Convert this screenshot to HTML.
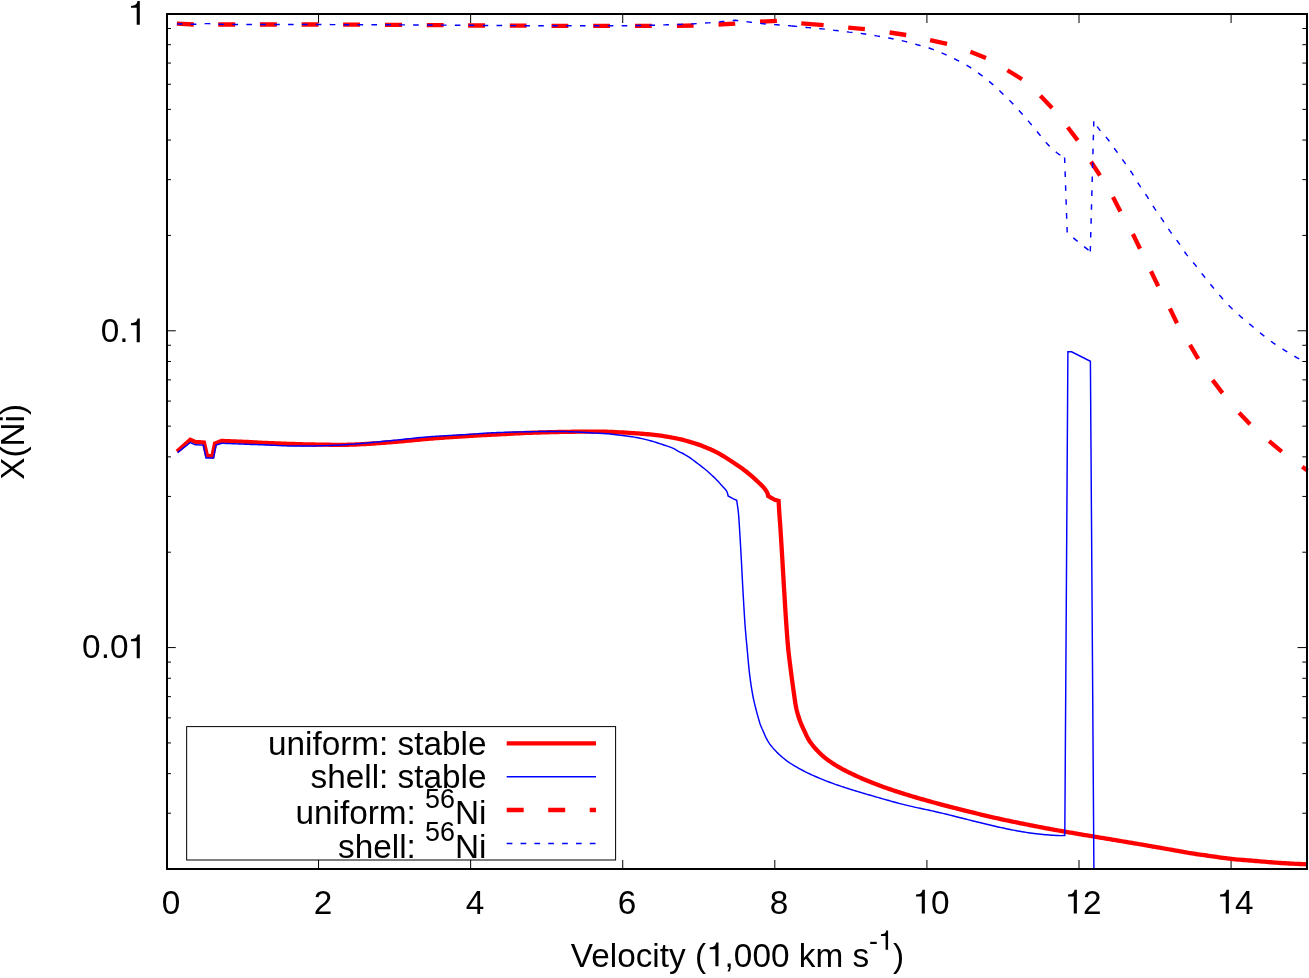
<!DOCTYPE html>
<html><head><meta charset="utf-8"><title>X(Ni) vs velocity</title>
<style>html,body{margin:0;padding:0;background:#fff;overflow:hidden}svg{display:block;will-change:transform}text{font-family:"Liberation Sans",sans-serif;fill:#000}.h{fill:none}</style></head><body>
<svg width="1309" height="978" viewBox="0 0 1309 978">
<rect x="0" y="0" width="1309" height="978" fill="#ffffff"/>
<path d="M318.55,869.00 v-9.00 M318.55,14.00 v9.00 M470.64,869.00 v-9.00 M470.64,14.00 v9.00 M622.73,869.00 v-9.00 M622.73,14.00 v9.00 M774.82,869.00 v-9.00 M774.82,14.00 v9.00 M926.91,869.00 v-9.00 M926.91,14.00 v9.00 M1079.00,869.00 v-9.00 M1079.00,14.00 v9.00 M1231.09,869.00 v-9.00 M1231.09,14.00 v9.00 M166.46,330.79 h9.30 M1307.13,330.79 h-9.60 M166.46,235.42 h4.50 M1307.13,235.42 h-4.80 M166.46,179.64 h4.50 M1307.13,179.64 h-4.80 M166.46,140.06 h4.50 M1307.13,140.06 h-4.80 M166.46,109.36 h4.50 M1307.13,109.36 h-4.80 M166.46,84.28 h4.50 M1307.13,84.28 h-4.80 M166.46,63.07 h4.50 M1307.13,63.07 h-4.80 M166.46,44.70 h4.50 M1307.13,44.70 h-4.80 M166.46,28.50 h4.50 M1307.13,28.50 h-4.80 M166.46,647.58 h9.30 M1307.13,647.58 h-9.60 M166.46,552.21 h4.50 M1307.13,552.21 h-4.80 M166.46,496.43 h4.50 M1307.13,496.43 h-4.80 M166.46,456.85 h4.50 M1307.13,456.85 h-4.80 M166.46,426.15 h4.50 M1307.13,426.15 h-4.80 M166.46,401.07 h4.50 M1307.13,401.07 h-4.80 M166.46,379.86 h4.50 M1307.13,379.86 h-4.80 M166.46,361.49 h4.50 M1307.13,361.49 h-4.80 M166.46,345.28 h4.50 M1307.13,345.28 h-4.80 M166.46,813.22 h4.50 M1307.13,813.22 h-4.80 M166.46,773.64 h4.50 M1307.13,773.64 h-4.80 M166.46,742.94 h4.50 M1307.13,742.94 h-4.80 M166.46,717.85 h4.50 M1307.13,717.85 h-4.80 M166.46,696.65 h4.50 M1307.13,696.65 h-4.80 M166.46,678.27 h4.50 M1307.13,678.27 h-4.80 M166.46,662.07 h4.50 M1307.13,662.07 h-4.80" stroke="#000" stroke-width="1" fill="none"/>
<g fill="none" stroke-linejoin="miter" stroke-miterlimit="10" stroke-linecap="butt">
<path d="M177.00,451.50 L190.30,439.80 L195.30,441.90 L203.90,442.50 L207.00,455.80 L212.40,456.40 L215.00,443.50 L221.50,440.90 L223.51,440.98 L225.53,441.06 L227.56,441.15 L229.59,441.23 L231.61,441.31 L233.64,441.39 L235.66,441.47 L237.67,441.55 L239.68,441.64 L241.67,441.72 L243.64,441.81 L245.60,441.90 L247.79,442.00 L249.95,442.11 L252.09,442.23 L254.21,442.34 L256.33,442.45 L258.45,442.57 L260.56,442.68 L262.69,442.79 L264.83,442.90 L267.00,443.00 L269.05,443.09 L271.09,443.18 L273.13,443.27 L275.17,443.36 L277.23,443.44 L279.29,443.52 L281.38,443.60 L283.48,443.68 L285.62,443.76 L287.79,443.83 L290.00,443.90 L291.88,443.96 L293.80,444.02 L295.74,444.07 L297.71,444.13 L299.70,444.18 L301.71,444.23 L303.74,444.28 L305.77,444.33 L307.81,444.38 L309.85,444.42 L311.90,444.47 L313.94,444.50 L315.97,444.54 L317.99,444.57 L320.00,444.60 L321.99,444.63 L323.97,444.66 L325.93,444.69 L327.89,444.72 L329.84,444.75 L331.79,444.78 L333.75,444.80 L335.72,444.82 L337.69,444.83 L339.68,444.84 L341.69,444.83 L343.73,444.82 L345.79,444.79 L347.88,444.75 L350.00,444.70 L351.87,444.64 L353.77,444.57 L355.69,444.50 L357.64,444.41 L359.60,444.32 L361.58,444.22 L363.58,444.11 L365.59,443.99 L367.61,443.87 L369.65,443.74 L371.68,443.61 L373.73,443.48 L375.78,443.34 L377.82,443.19 L379.87,443.05 L381.91,442.90 L383.95,442.75 L385.98,442.60 L387.99,442.45 L390.00,442.30 L392.00,442.15 L394.00,441.98 L396.00,441.82 L398.00,441.64 L400.00,441.47 L402.00,441.28 L404.00,441.10 L406.00,440.91 L408.00,440.72 L410.00,440.52 L412.00,440.33 L414.00,440.14 L416.00,439.95 L418.00,439.76 L420.00,439.57 L422.00,439.39 L424.00,439.21 L426.00,439.03 L428.00,438.86 L430.00,438.70 L432.01,438.54 L434.02,438.38 L436.05,438.23 L438.09,438.07 L440.13,437.92 L442.18,437.77 L444.23,437.62 L446.27,437.47 L448.32,437.33 L450.36,437.19 L452.39,437.05 L454.41,436.91 L456.42,436.77 L458.42,436.64 L460.40,436.51 L462.37,436.38 L464.31,436.26 L466.23,436.14 L468.13,436.02 L470.00,435.90 L472.12,435.77 L474.21,435.65 L476.27,435.53 L478.31,435.42 L480.32,435.31 L482.31,435.20 L484.28,435.10 L486.25,435.00 L488.21,434.90 L490.16,434.80 L492.11,434.70 L494.07,434.60 L496.03,434.50 L498.01,434.40 L500.00,434.30 L501.99,434.20 L503.97,434.09 L505.93,433.98 L507.89,433.88 L509.84,433.77 L511.79,433.66 L513.75,433.56 L515.71,433.46 L517.69,433.35 L519.68,433.25 L521.69,433.16 L523.72,433.06 L525.78,432.97 L527.87,432.88 L530.00,432.80 L531.88,432.73 L533.79,432.66 L535.74,432.60 L537.72,432.54 L539.73,432.48 L541.76,432.42 L543.80,432.36 L545.86,432.30 L547.93,432.25 L550.00,432.20 L552.07,432.15 L554.14,432.10 L556.19,432.06 L558.24,432.01 L560.27,431.97 L562.28,431.93 L564.26,431.90 L566.21,431.86 L568.12,431.83 L570.00,431.80 L572.12,431.77 L574.22,431.73 L576.28,431.70 L578.31,431.66 L580.32,431.63 L582.31,431.60 L584.29,431.58 L586.25,431.56 L588.21,431.54 L590.16,431.53 L592.11,431.53 L594.07,431.53 L596.03,431.55 L598.01,431.57 L600.00,431.60 L602.03,431.64 L604.12,431.70 L606.26,431.77 L608.42,431.84 L610.60,431.93 L612.77,432.02 L614.94,432.11 L617.07,432.21 L619.16,432.32 L621.19,432.42 L623.15,432.52 L625.03,432.62 L626.81,432.72 L628.47,432.81 L630.00,432.90 L632.30,433.03 L634.24,433.16 L636.04,433.28 L637.89,433.43 L640.00,433.60 L641.80,433.75 L643.72,433.91 L645.73,434.08 L647.80,434.26 L649.92,434.46 L652.07,434.67 L654.21,434.89 L656.33,435.14 L658.40,435.40 L660.47,435.68 L662.57,435.99 L664.68,436.31 L666.79,436.65 L668.89,437.00 L670.95,437.37 L672.97,437.74 L674.92,438.12 L676.80,438.50 L679.00,438.98 L681.10,439.46 L683.12,439.96 L685.11,440.48 L687.09,441.03 L689.10,441.60 L691.15,442.20 L693.18,442.83 L695.22,443.48 L697.25,444.15 L699.28,444.86 L701.30,445.60 L703.41,446.41 L705.56,447.28 L707.72,448.18 L709.81,449.09 L711.79,449.97 L713.60,450.80 L715.82,451.86 L717.80,452.88 L720.00,454.10 L721.62,455.04 L723.38,456.10 L725.24,457.25 L727.16,458.47 L729.11,459.71 L731.03,460.97 L732.90,462.20 L734.76,463.44 L736.63,464.70 L738.50,465.98 L740.36,467.27 L742.20,468.59 L744.01,469.93 L745.80,471.30 L747.57,472.71 L749.36,474.19 L751.13,475.69 L752.86,477.21 L754.53,478.70 L756.12,480.14 L757.60,481.50 L759.45,483.22 L761.16,484.85 L762.72,486.44 L764.10,488.00 L765.95,490.46 L767.30,492.80 L767.83,494.42 L768.20,496.00 L774.80,499.80 L778.60,500.90 L778.73,503.08 L778.86,505.29 L778.99,507.52 L779.11,509.73 L779.24,511.89 L779.37,513.95 L779.50,515.90 L779.67,518.20 L779.83,520.24 L780.01,522.39 L780.20,525.00 L780.30,526.47 L780.41,528.08 L780.52,529.82 L780.64,531.66 L780.76,533.61 L780.89,535.63 L781.02,537.72 L781.15,539.87 L781.28,542.05 L781.42,544.26 L781.55,546.48 L781.69,548.69 L781.82,550.88 L781.95,553.04 L782.08,555.15 L782.20,557.20 L782.32,559.21 L782.44,561.21 L782.56,563.20 L782.67,565.19 L782.79,567.18 L782.91,569.17 L783.02,571.15 L783.14,573.14 L783.25,575.14 L783.37,577.14 L783.49,579.15 L783.61,581.17 L783.73,583.21 L783.85,585.26 L783.97,587.32 L784.10,589.40 L784.22,591.43 L784.35,593.50 L784.48,595.61 L784.61,597.74 L784.74,599.90 L784.88,602.07 L785.01,604.26 L785.15,606.44 L785.28,608.62 L785.42,610.79 L785.56,612.94 L785.69,615.07 L785.83,617.17 L785.97,619.24 L786.10,621.26 L786.24,623.23 L786.37,625.15 L786.50,627.00 L786.66,629.26 L786.82,631.43 L786.97,633.53 L787.11,635.57 L787.26,637.56 L787.41,639.53 L787.57,641.49 L787.74,643.45 L787.91,645.43 L788.10,647.44 L788.30,649.50 L788.51,651.52 L788.74,653.58 L788.97,655.66 L789.22,657.76 L789.48,659.86 L789.74,661.96 L790.00,664.05 L790.27,666.13 L790.53,668.18 L790.79,670.20 L791.05,672.17 L791.30,674.10 L791.58,676.27 L791.86,678.40 L792.13,680.48 L792.41,682.54 L792.68,684.56 L792.96,686.57 L793.23,688.55 L793.51,690.53 L793.80,692.50 L794.09,694.56 L794.38,696.61 L794.65,698.65 L794.94,700.66 L795.24,702.65 L795.56,704.61 L795.91,706.53 L796.30,708.40 L796.81,710.57 L797.36,712.69 L797.94,714.75 L798.56,716.77 L799.22,718.76 L799.90,720.70 L800.71,722.81 L801.57,724.86 L802.46,726.86 L803.38,728.84 L804.30,730.80 L805.16,732.68 L806.01,734.53 L806.88,736.37 L807.83,738.19 L808.90,740.00 L809.99,741.67 L811.18,743.34 L812.44,745.00 L813.75,746.64 L815.11,748.25 L816.50,749.80 L817.91,751.30 L819.36,752.75 L820.84,754.17 L822.39,755.56 L824.00,756.93 L825.70,758.30 L827.23,759.48 L828.83,760.64 L830.48,761.80 L832.18,762.94 L833.92,764.08 L835.71,765.20 L837.54,766.31 L839.40,767.40 L841.10,768.36 L842.82,769.31 L844.59,770.25 L846.38,771.17 L848.21,772.09 L850.07,773.00 L851.96,773.90 L853.88,774.80 L855.83,775.70 L857.80,776.60 L859.54,777.38 L861.31,778.16 L863.11,778.94 L864.93,779.71 L866.77,780.48 L868.63,781.25 L870.51,782.02 L872.42,782.78 L874.34,783.53 L876.28,784.28 L878.24,785.03 L880.21,785.77 L882.20,786.50 L884.02,787.16 L885.87,787.82 L887.76,788.47 L889.68,789.13 L891.62,789.79 L893.58,790.44 L895.55,791.09 L897.53,791.73 L899.50,792.36 L901.47,792.99 L903.43,793.60 L905.36,794.21 L907.27,794.80 L909.15,795.38 L911.00,795.95 L912.80,796.50 L915.02,797.17 L917.23,797.83 L919.42,798.46 L921.58,799.09 L923.72,799.69 L925.83,800.28 L927.90,800.86 L929.92,801.42 L931.90,801.96 L933.83,802.49 L935.70,803.00 L937.85,803.59 L939.79,804.12 L941.63,804.62 L943.47,805.11 L945.42,805.62 L947.56,806.17 L950.00,806.80 L951.47,807.18 L953.04,807.57 L954.69,807.99 L956.42,808.43 L958.22,808.89 L960.09,809.36 L962.02,809.85 L964.00,810.35 L966.03,810.85 L968.10,811.37 L970.20,811.89 L972.33,812.42 L974.48,812.95 L976.65,813.48 L978.83,814.01 L981.01,814.54 L983.18,815.06 L985.35,815.58 L987.50,816.09 L989.62,816.58 L991.72,817.07 L993.78,817.54 L995.80,818.00 L997.81,818.45 L999.84,818.90 L1001.89,819.34 L1003.96,819.79 L1006.05,820.24 L1008.15,820.68 L1010.26,821.12 L1012.37,821.56 L1014.48,821.99 L1016.58,822.43 L1018.68,822.85 L1020.76,823.27 L1022.82,823.69 L1024.87,824.10 L1026.89,824.50 L1028.88,824.89 L1030.84,825.28 L1032.76,825.66 L1034.65,826.03 L1036.49,826.39 L1038.28,826.74 L1040.02,827.07 L1041.70,827.40 L1044.07,827.86 L1046.30,828.28 L1048.44,828.69 L1050.49,829.07 L1052.48,829.44 L1054.45,829.79 L1056.40,830.15 L1058.37,830.50 L1060.38,830.85 L1062.44,831.22 L1064.60,831.60 L1066.57,831.94 L1068.57,832.29 L1070.61,832.64 L1072.67,832.99 L1074.76,833.35 L1076.86,833.70 L1078.97,834.06 L1081.09,834.41 L1083.20,834.76 L1085.31,835.12 L1087.41,835.47 L1089.50,835.81 L1091.56,836.16 L1093.60,836.50 L1095.67,836.85 L1097.74,837.19 L1099.79,837.53 L1101.84,837.88 L1103.88,838.21 L1105.92,838.55 L1107.95,838.89 L1109.97,839.22 L1111.98,839.56 L1113.99,839.89 L1116.00,840.23 L1118.00,840.56 L1120.00,840.90 L1122.08,841.25 L1124.12,841.59 L1126.15,841.94 L1128.16,842.28 L1130.17,842.62 L1132.18,842.96 L1134.20,843.30 L1136.23,843.65 L1138.29,844.00 L1140.38,844.36 L1142.52,844.72 L1144.70,845.10 L1146.67,845.44 L1148.72,845.80 L1150.84,846.16 L1153.02,846.54 L1155.23,846.93 L1157.47,847.32 L1159.72,847.71 L1161.96,848.11 L1164.18,848.50 L1166.36,848.88 L1168.49,849.25 L1170.55,849.62 L1172.53,849.97 L1174.40,850.30 L1176.17,850.61 L1177.80,850.90 L1180.16,851.33 L1182.24,851.71 L1184.15,852.07 L1186.01,852.41 L1187.92,852.75 L1190.00,853.10 L1191.93,853.41 L1193.89,853.70 L1195.89,854.00 L1197.93,854.29 L1200.02,854.58 L1202.16,854.88 L1204.35,855.18 L1206.60,855.50 L1208.49,855.77 L1210.46,856.06 L1212.49,856.35 L1214.56,856.66 L1216.67,856.96 L1218.80,857.27 L1220.94,857.58 L1223.06,857.87 L1225.16,858.16 L1227.23,858.42 L1229.25,858.67 L1231.20,858.90 L1233.38,859.13 L1235.48,859.34 L1237.53,859.52 L1239.55,859.69 L1241.56,859.84 L1243.58,860.00 L1245.65,860.15 L1247.78,860.32 L1250.00,860.50 L1251.91,860.66 L1253.89,860.83 L1255.92,861.01 L1258.00,861.18 L1260.12,861.37 L1262.25,861.55 L1264.38,861.73 L1266.51,861.91 L1268.62,862.08 L1270.70,862.25 L1272.73,862.41 L1274.70,862.56 L1276.60,862.70 L1278.82,862.85 L1281.00,863.00 L1283.14,863.13 L1285.24,863.26 L1287.30,863.38 L1289.31,863.50 L1291.26,863.60 L1293.16,863.70 L1295.00,863.80 L1297.47,863.92 L1299.79,864.02 L1302.03,864.12 L1304.24,864.21 L1306.50,864.30" stroke="#ff0000" stroke-width="4.30" stroke-linejoin="miter" stroke-miterlimit="10"/>
<path d="M177.60,452.60 L190.30,442.50 L195.30,444.80 L203.30,445.10 L206.00,458.00 L213.50,458.00 L216.10,445.10 L222.00,443.30 L224.09,443.38 L226.19,443.46 L228.29,443.55 L230.39,443.63 L232.48,443.71 L234.58,443.80 L236.67,443.88 L238.76,443.96 L240.85,444.04 L242.93,444.12 L245.00,444.20 L247.02,444.28 L249.02,444.35 L251.02,444.42 L253.02,444.49 L255.01,444.56 L256.99,444.63 L258.98,444.70 L260.98,444.77 L262.98,444.84 L264.98,444.92 L267.00,445.00 L269.08,445.09 L271.17,445.18 L273.28,445.29 L275.39,445.39 L277.51,445.50 L279.62,445.61 L281.73,445.70 L283.83,445.80 L285.91,445.88 L287.97,445.95 L290.00,446.00 L292.06,446.04 L294.09,446.07 L296.10,446.08 L298.10,446.09 L300.09,446.09 L302.07,446.08 L304.04,446.07 L306.02,446.05 L308.01,446.02 L310.00,446.00 L312.00,445.97 L314.00,445.94 L316.00,445.91 L318.00,445.86 L320.00,445.82 L322.00,445.77 L324.00,445.71 L326.00,445.65 L328.00,445.58 L330.00,445.50 L331.97,445.42 L333.89,445.34 L335.79,445.25 L337.67,445.16 L339.57,445.07 L341.51,444.96 L343.50,444.84 L345.56,444.71 L347.72,444.56 L350.00,444.40 L351.69,444.27 L353.45,444.13 L355.26,443.98 L357.12,443.83 L359.04,443.66 L360.99,443.48 L362.99,443.30 L365.02,443.12 L367.07,442.92 L369.15,442.73 L371.24,442.53 L373.34,442.32 L375.46,442.12 L377.57,441.91 L379.68,441.70 L381.78,441.50 L383.87,441.30 L385.94,441.09 L387.98,440.89 L390.00,440.70 L392.00,440.50 L394.00,440.30 L396.00,440.10 L398.00,439.89 L400.00,439.68 L402.00,439.47 L404.00,439.26 L406.00,439.04 L408.00,438.83 L410.00,438.62 L412.00,438.41 L414.00,438.20 L416.00,437.99 L418.00,437.79 L420.00,437.59 L422.00,437.40 L424.00,437.22 L426.00,437.04 L428.00,436.86 L430.00,436.70 L432.01,436.54 L434.06,436.39 L436.13,436.25 L438.22,436.11 L440.32,435.98 L442.43,435.85 L444.54,435.72 L446.65,435.60 L448.76,435.48 L450.85,435.37 L452.93,435.26 L454.99,435.15 L457.01,435.04 L459.01,434.93 L460.96,434.83 L462.88,434.72 L464.74,434.62 L466.56,434.51 L468.31,434.41 L470.00,434.30 L472.25,434.15 L474.33,434.00 L476.29,433.85 L478.16,433.70 L480.00,433.56 L481.83,433.42 L483.71,433.28 L485.67,433.15 L487.75,433.02 L490.00,432.90 L491.69,432.82 L493.44,432.74 L495.25,432.66 L497.12,432.58 L499.03,432.51 L500.99,432.44 L502.98,432.36 L505.01,432.30 L507.06,432.23 L509.14,432.17 L511.23,432.11 L513.34,432.05 L515.45,431.99 L517.57,431.94 L519.68,431.89 L521.78,431.85 L523.87,431.81 L525.94,431.77 L527.98,431.73 L530.00,431.70 L532.02,431.67 L534.06,431.64 L536.13,431.62 L538.22,431.59 L540.32,431.57 L542.43,431.55 L544.55,431.54 L546.66,431.53 L548.76,431.52 L550.86,431.51 L552.94,431.51 L554.99,431.51 L557.02,431.52 L559.01,431.53 L560.97,431.54 L562.88,431.56 L564.74,431.59 L566.56,431.62 L568.31,431.66 L570.00,431.70 L572.28,431.77 L574.44,431.86 L576.51,431.96 L578.50,432.07 L580.43,432.19 L582.33,432.31 L584.22,432.43 L586.11,432.56 L588.03,432.68 L590.00,432.80 L592.00,432.91 L594.00,433.01 L596.00,433.11 L598.00,433.21 L600.00,433.31 L602.00,433.42 L604.00,433.54 L606.00,433.68 L608.00,433.83 L610.00,434.00 L612.03,434.20 L614.11,434.42 L616.22,434.66 L618.34,434.91 L620.44,435.18 L622.50,435.45 L624.51,435.72 L626.44,435.99 L628.28,436.25 L630.00,436.50 L632.21,436.83 L634.21,437.14 L636.10,437.45 L638.00,437.80 L640.00,438.20 L641.98,438.63 L644.02,439.11 L646.09,439.62 L648.17,440.16 L650.25,440.72 L652.30,441.30 L654.36,441.90 L656.43,442.53 L658.50,443.19 L660.54,443.86 L662.55,444.53 L664.50,445.20 L666.63,445.93 L668.79,446.67 L670.87,447.42 L672.77,448.16 L674.40,448.90 L676.29,450.07 L678.00,451.20 L680.37,452.32 L682.90,453.50 L684.89,454.59 L686.94,455.81 L689.10,457.20 L690.84,458.40 L692.67,459.73 L694.55,461.14 L696.44,462.58 L698.30,464.00 L700.15,465.42 L702.00,466.84 L703.85,468.29 L705.68,469.77 L707.50,471.30 L709.09,472.70 L710.73,474.17 L712.35,475.67 L713.91,477.15 L715.38,478.58 L716.70,479.90 L718.29,481.58 L719.66,483.14 L721.10,484.80 L722.64,486.46 L724.32,488.23 L725.86,490.01 L727.00,491.70 L727.71,493.88 L728.10,496.00 L732.90,498.70 L736.70,500.30 L737.03,502.54 L737.37,504.77 L737.71,507.01 L738.02,509.28 L738.30,511.60 L738.51,513.70 L738.68,515.76 L738.84,517.86 L738.98,520.06 L739.13,522.42 L739.30,525.00 L739.41,526.63 L739.52,528.36 L739.63,530.18 L739.75,532.07 L739.87,534.04 L739.99,536.06 L740.11,538.12 L740.24,540.23 L740.36,542.36 L740.48,544.51 L740.61,546.67 L740.73,548.82 L740.85,550.96 L740.97,553.08 L741.09,555.16 L741.20,557.20 L741.31,559.21 L741.42,561.21 L741.53,563.20 L741.63,565.19 L741.73,567.18 L741.83,569.17 L741.94,571.15 L742.04,573.14 L742.14,575.14 L742.24,577.14 L742.35,579.15 L742.45,581.18 L742.56,583.21 L742.67,585.26 L742.78,587.32 L742.90,589.40 L743.02,591.43 L743.13,593.50 L743.25,595.61 L743.37,597.75 L743.50,599.90 L743.62,602.07 L743.74,604.26 L743.87,606.44 L744.00,608.62 L744.13,610.79 L744.26,612.94 L744.39,615.07 L744.52,617.17 L744.66,619.24 L744.79,621.26 L744.93,623.23 L745.06,625.15 L745.20,627.00 L745.37,629.26 L745.55,631.43 L745.72,633.53 L745.90,635.57 L746.08,637.56 L746.26,639.53 L746.44,641.49 L746.63,643.45 L746.82,645.43 L747.01,647.44 L747.20,649.50 L747.39,651.52 L747.57,653.56 L747.75,655.62 L747.94,657.70 L748.13,659.78 L748.32,661.87 L748.51,663.95 L748.71,666.02 L748.92,668.07 L749.14,670.11 L749.36,672.12 L749.60,674.10 L749.87,676.27 L750.15,678.42 L750.43,680.56 L750.72,682.69 L751.02,684.79 L751.34,686.87 L751.66,688.93 L751.99,690.95 L752.34,692.94 L752.70,694.90 L753.11,697.01 L753.54,699.08 L753.99,701.10 L754.45,703.09 L754.92,705.06 L755.40,707.01 L755.89,708.95 L756.40,710.90 L756.98,713.11 L757.60,715.38 L758.23,717.65 L758.87,719.87 L759.50,721.98 L760.11,723.91 L760.70,725.60 L761.81,728.28 L763.00,730.80 L763.78,732.59 L764.60,734.57 L765.50,736.64 L766.49,738.71 L767.60,740.70 L768.68,742.40 L769.85,744.07 L771.09,745.72 L772.42,747.36 L773.82,748.99 L775.30,750.60 L776.63,751.98 L778.04,753.36 L779.50,754.74 L781.03,756.10 L782.59,757.45 L784.20,758.77 L785.84,760.06 L787.50,761.30 L789.28,762.56 L791.10,763.77 L792.97,764.96 L794.87,766.11 L796.81,767.23 L798.78,768.34 L800.78,769.42 L802.80,770.50 L804.53,771.40 L806.29,772.28 L808.06,773.15 L809.85,774.00 L811.67,774.83 L813.51,775.66 L815.37,776.48 L817.25,777.29 L819.16,778.10 L821.10,778.90 L822.90,779.63 L824.71,780.36 L826.54,781.07 L828.39,781.78 L830.26,782.48 L832.15,783.18 L834.06,783.87 L835.99,784.56 L837.96,785.24 L839.94,785.93 L841.96,786.61 L844.00,787.30 L845.90,787.93 L847.84,788.55 L849.82,789.18 L851.82,789.80 L853.85,790.43 L855.90,791.05 L857.97,791.67 L860.04,792.28 L862.13,792.90 L864.22,793.51 L866.31,794.11 L868.40,794.72 L870.48,795.31 L872.55,795.91 L874.60,796.50 L876.63,797.09 L878.66,797.67 L880.69,798.25 L882.72,798.83 L884.75,799.41 L886.78,799.99 L888.82,800.56 L890.85,801.13 L892.88,801.69 L894.91,802.24 L896.95,802.79 L898.98,803.33 L901.02,803.86 L903.06,804.39 L905.10,804.90 L907.16,805.40 L909.26,805.90 L911.39,806.39 L913.54,806.88 L915.71,807.36 L917.88,807.84 L920.03,808.30 L922.17,808.76 L924.28,809.21 L926.35,809.65 L928.36,810.08 L930.31,810.50 L932.20,810.91 L933.99,811.31 L935.70,811.70 L937.98,812.23 L940.02,812.70 L941.93,813.15 L943.78,813.59 L945.68,814.05 L947.72,814.54 L950.00,815.10 L951.71,815.52 L953.51,815.97 L955.39,816.45 L957.34,816.94 L959.35,817.46 L961.41,817.98 L963.52,818.52 L965.65,819.07 L967.81,819.62 L969.97,820.17 L972.14,820.72 L974.29,821.26 L976.43,821.79 L978.54,822.30 L980.60,822.80 L982.64,823.29 L984.70,823.78 L986.76,824.27 L988.84,824.76 L990.92,825.26 L993.00,825.74 L995.08,826.23 L997.14,826.70 L999.20,827.17 L1001.24,827.63 L1003.27,828.07 L1005.27,828.50 L1007.24,828.92 L1009.19,829.32 L1011.10,829.70 L1013.32,830.13 L1015.52,830.54 L1017.69,830.94 L1019.85,831.32 L1021.98,831.68 L1024.07,832.03 L1026.14,832.36 L1028.17,832.67 L1030.15,832.97 L1032.10,833.24 L1034.00,833.50 L1036.37,833.80 L1038.67,834.06 L1040.91,834.29 L1043.09,834.49 L1045.21,834.68 L1047.28,834.84 L1049.30,835.00 L1051.63,835.17 L1053.92,835.33 L1056.11,835.45 L1058.16,835.55 L1060.00,835.60 L1062.52,835.58 L1064.80,835.50 L1067.90,351.80 L1071.60,351.80 L1090.40,361.30 L1093.90,869.00" stroke="#0000ff" stroke-width="1.45"/>
<path d="M176.90,23.60 L193.80,24.50 M218.20,24.50 L235.20,24.50 M259.90,24.50 L276.90,24.50 M301.60,24.50 L318.50,24.50 M343.10,24.70 L360.00,24.70 M385.00,24.90 L402.00,24.90 M426.80,25.10 L443.60,25.10 M468.10,25.50 L485.00,25.50 M509.80,25.70 L526.60,25.70 M551.50,25.90 L568.30,25.90 M593.20,25.90 L610.00,25.90 M635.00,25.80 L651.80,25.80 M676.90,25.90 L693.60,25.50 M718.50,24.50 L735.20,23.70 M760.00,21.70 L776.90,20.80 M801.30,23.30 L823.60,25.10 M848.20,27.60 L864.90,29.10 M889.60,32.50 L906.20,35.00 M930.10,40.20 L947.10,43.80 M970.40,51.80 L986.00,57.90 M1007.40,70.20 L1022.00,79.30 M1040.40,95.80 L1052.10,107.90 M1067.70,127.20 L1077.70,140.40 M1091.00,161.80 L1100.00,175.50 M1113.00,197.10 L1120.40,211.60 M1132.90,234.00 L1140.00,248.80 M1151.00,271.20 L1158.20,286.20 M1169.90,308.50 L1177.00,323.20 M1190.00,344.90 L1198.20,358.90 M1212.60,380.10 L1222.50,393.10 M1239.10,412.70 L1250.10,424.30 M1269.10,441.20 L1281.80,451.60 M1302.30,466.70 L1307.50,470.60" stroke="#ff0000" stroke-width="4.30"/>
<path d="M176.90,23.90 L178.93,23.95 L180.99,24.02 L183.07,24.08 L185.15,24.15 L187.21,24.22 L189.24,24.27 L191.23,24.30 L193.15,24.32 L195.00,24.30 L197.14,24.22 L199.16,24.09 L201.12,23.92 L203.06,23.77 L205.00,23.65 L207.00,23.60 L209.01,23.64 L210.88,23.74 L212.77,23.88 L214.83,24.04 L217.19,24.19 L220.00,24.30 L221.19,24.33 L222.46,24.36 L223.81,24.38 L225.23,24.41 L226.73,24.43 L228.29,24.45 L229.91,24.46 L231.60,24.48 L233.35,24.49 L235.16,24.50 L237.01,24.51 L238.92,24.52 L240.87,24.52 L242.87,24.53 L244.91,24.53 L246.98,24.53 L249.09,24.53 L251.23,24.53 L253.40,24.53 L255.59,24.53 L257.81,24.53 L260.04,24.53 L262.29,24.52 L264.56,24.52 L266.83,24.51 L269.11,24.51 L271.39,24.51 L273.68,24.50 L275.96,24.50 L278.23,24.49 L280.50,24.49 L282.76,24.49 L285.00,24.49 L287.22,24.49 L289.42,24.49 L291.60,24.49 L293.75,24.49 L295.86,24.49 L297.95,24.49 L300.00,24.50 L302.00,24.51 L304.02,24.51 L306.06,24.52 L308.12,24.52 L310.19,24.53 L312.27,24.54 L314.36,24.54 L316.47,24.55 L318.58,24.56 L320.70,24.57 L322.83,24.57 L324.96,24.58 L327.10,24.59 L329.24,24.59 L331.38,24.60 L333.53,24.61 L335.67,24.62 L337.80,24.62 L339.94,24.63 L342.07,24.64 L344.19,24.65 L346.31,24.65 L348.41,24.66 L350.51,24.67 L352.60,24.68 L354.67,24.68 L356.73,24.69 L358.77,24.70 L360.79,24.71 L362.80,24.71 L364.79,24.72 L366.76,24.73 L368.70,24.74 L370.62,24.74 L372.52,24.75 L374.39,24.76 L376.23,24.76 L378.05,24.77 L379.84,24.78 L381.59,24.79 L383.31,24.79 L385.00,24.80 L387.30,24.81 L389.51,24.82 L391.65,24.83 L393.71,24.84 L395.71,24.84 L397.65,24.85 L399.56,24.86 L401.43,24.87 L403.28,24.88 L405.12,24.88 L406.94,24.89 L408.78,24.90 L410.62,24.91 L412.49,24.92 L414.39,24.93 L416.34,24.94 L418.33,24.95 L420.38,24.96 L422.51,24.97 L424.71,24.99 L427.00,25.00 L428.70,25.01 L430.43,25.02 L432.19,25.03 L433.99,25.05 L435.81,25.06 L437.65,25.07 L439.53,25.09 L441.43,25.10 L443.35,25.11 L445.29,25.13 L447.26,25.14 L449.24,25.16 L451.25,25.18 L453.27,25.19 L455.31,25.21 L457.36,25.23 L459.43,25.24 L461.50,25.26 L463.60,25.28 L465.70,25.29 L467.81,25.31 L469.92,25.33 L472.05,25.34 L474.18,25.36 L476.31,25.38 L478.45,25.39 L480.58,25.41 L482.72,25.43 L484.86,25.44 L486.99,25.46 L489.13,25.47 L491.25,25.49 L493.38,25.50 L495.49,25.52 L497.60,25.53 L499.70,25.54 L501.78,25.56 L503.86,25.57 L505.92,25.58 L507.97,25.59 L510.00,25.60 L512.03,25.61 L514.08,25.62 L516.13,25.63 L518.20,25.64 L520.27,25.65 L522.36,25.66 L524.45,25.67 L526.55,25.67 L528.66,25.68 L530.77,25.69 L532.89,25.70 L535.00,25.71 L537.12,25.72 L539.24,25.72 L541.36,25.73 L543.48,25.74 L545.59,25.75 L547.71,25.75 L549.81,25.76 L551.92,25.76 L554.01,25.77 L556.10,25.78 L558.18,25.78 L560.25,25.79 L562.31,25.79 L564.36,25.79 L566.39,25.80 L568.42,25.80 L570.42,25.80 L572.42,25.81 L574.39,25.81 L576.35,25.81 L578.29,25.81 L580.21,25.81 L582.10,25.81 L583.98,25.81 L585.83,25.81 L587.66,25.81 L589.47,25.81 L591.25,25.80 L593.00,25.80 L595.32,25.80 L597.62,25.79 L599.90,25.78 L602.16,25.78 L604.39,25.77 L606.61,25.77 L608.79,25.76 L610.95,25.75 L613.09,25.74 L615.20,25.73 L617.29,25.72 L619.35,25.71 L621.37,25.70 L623.38,25.68 L625.35,25.67 L627.29,25.65 L629.20,25.63 L631.08,25.61 L632.93,25.59 L634.75,25.57 L636.53,25.55 L638.28,25.53 L640.00,25.50 L642.46,25.46 L644.79,25.41 L647.02,25.37 L649.17,25.32 L651.26,25.27 L653.31,25.21 L655.35,25.15 L657.39,25.09 L659.47,25.03 L661.60,24.97 L663.80,24.90 L665.89,24.84 L668.04,24.77 L670.23,24.70 L672.45,24.63 L674.69,24.56 L676.93,24.48 L679.16,24.41 L681.37,24.33 L683.55,24.25 L685.67,24.16 L687.73,24.08 L689.71,23.99 L691.60,23.90 L694.07,23.78 L696.34,23.65 L698.49,23.53 L700.61,23.40 L702.77,23.25 L705.04,23.09 L707.50,22.90 L709.39,22.75 L711.35,22.58 L713.39,22.40 L715.49,22.21 L717.63,22.01 L719.82,21.80 L722.03,21.58 L724.26,21.37 L726.49,21.15 L728.73,20.93 L730.95,20.71 L733.14,20.50 L735.30,20.30 L737.45,20.57 L739.59,20.83 L741.74,21.10 L743.89,21.37 L746.04,21.63 L748.20,21.90 L750.38,22.17 L752.55,22.45 L754.72,22.73 L756.91,23.00 L759.13,23.26 L761.40,23.50 L763.56,23.71 L765.76,23.91 L768.00,24.09 L770.25,24.27 L772.51,24.45 L774.76,24.62 L777.00,24.80 L779.20,24.97 L781.40,25.14 L783.59,25.30 L785.79,25.46 L787.98,25.63 L790.19,25.81 L791.60,25.93" stroke="#0000ff" stroke-width="1.45" stroke-dasharray="5.6 8.3" stroke-dashoffset="0.0" stroke-linejoin="bevel"/>
<path d="M791.60,25.93 L792.40,26.00 L794.39,26.18 L796.40,26.38 L798.43,26.58 L800.45,26.79 L802.47,27.00 L804.47,27.21 L806.45,27.41 L808.40,27.60 L810.45,27.79 L812.47,27.98 L814.47,28.15 L816.45,28.33 L818.43,28.51 L820.41,28.70 L822.40,28.90 L824.73,29.15 L827.06,29.41 L829.39,29.68 L831.71,29.95 L834.02,30.23 L836.30,30.50 L838.46,30.76 L840.59,31.03 L842.70,31.30 L844.81,31.57 L846.94,31.84 L849.10,32.10 L851.38,32.36 L853.70,32.62 L856.02,32.87 L858.36,33.12 L860.68,33.40 L863.00,33.70 L865.29,34.03 L867.58,34.38 L869.87,34.75 L872.15,35.13 L874.43,35.51 L876.70,35.90 L878.96,36.28 L881.21,36.67 L883.46,37.06 L885.71,37.46 L887.95,37.87 L890.20,38.30 L892.45,38.73 L894.71,39.18 L896.96,39.63 L899.21,40.09 L901.46,40.58 L903.70,41.10 L905.95,41.65 L908.20,42.23 L910.45,42.83 L912.70,43.45 L914.94,44.07 L917.20,44.70 L919.17,45.24 L921.15,45.78 L923.14,46.32 L925.12,46.88 L927.10,47.45 L929.06,48.06 L931.00,48.70 L932.89,49.37 L934.77,50.07 L936.64,50.80 L938.49,51.55 L940.33,52.32 L942.17,53.11 L944.00,53.90 L946.11,54.83 L948.21,55.79 L950.30,56.76 L952.38,57.76 L954.45,58.77 L956.50,59.80 L958.53,60.83 L960.55,61.87 L962.56,62.93 L964.56,64.01 L966.54,65.13 L968.50,66.30 L970.19,67.36 L971.88,68.46 L973.55,69.59 L975.21,70.75 L976.85,71.92 L978.48,73.11 L980.10,74.30 L981.95,75.69 L983.77,77.09 L985.58,78.52 L987.37,79.96 L989.15,81.42 L990.90,82.90 L992.62,84.39 L994.32,85.91 L996.01,87.44 L997.68,88.98 L999.34,90.54 L1001.00,92.10 L1002.67,93.67 L1004.34,95.25 L1006.00,96.84 L1007.64,98.44 L1009.28,100.06 L1010.90,101.70 L1012.29,103.14 L1013.66,104.59 L1015.02,106.06 L1016.38,107.53 L1017.72,109.02 L1019.06,110.51 L1020.40,112.00 L1021.73,113.50 L1023.06,115.01 L1024.39,116.52 L1025.70,118.04 L1027.01,119.56 L1028.31,121.08 L1029.60,122.60 L1031.05,124.33 L1032.49,126.06 L1033.91,127.78 L1035.33,129.51 L1036.75,131.25 L1038.20,133.00 L1039.49,134.57 L1040.77,136.17 L1042.07,137.78 L1043.37,139.39 L1044.69,140.97 L1046.03,142.51 L1047.40,144.00 L1048.99,145.63 L1050.62,147.26 L1052.29,148.83 L1053.95,150.34 L1055.60,151.74 L1057.20,153.00 L1059.08,154.30 L1060.93,155.40 L1062.76,156.43 L1064.60,157.50" stroke="#0000ff" stroke-width="1.45" stroke-dasharray="5.6 8.3" stroke-dashoffset="0.0" stroke-linejoin="bevel"/>
<path d="M1064.60,157.50 L1067.20,233.10 L1090.30,251.50" stroke="#0000ff" stroke-width="1.45" stroke-dasharray="5.6 8.3" stroke-dashoffset="0.0" stroke-linejoin="bevel"/>
<path d="M1090.30,251.50 L1093.80,121.30" stroke="#0000ff" stroke-width="1.45" stroke-dasharray="5.6 8.3" stroke-dashoffset="0.0" stroke-linejoin="bevel"/>
<path d="M1093.80,121.30 L1094.93,123.02 L1096.04,124.73 L1097.15,126.45 L1098.33,128.17 L1099.60,129.90 L1100.92,131.53 L1102.33,133.15 L1103.81,134.78 L1105.31,136.42 L1106.79,138.09 L1108.20,139.80 L1109.56,141.58 L1110.89,143.40 L1112.20,145.24 L1113.49,147.10 L1114.79,148.96 L1116.10,150.80 L1117.43,152.63 L1118.77,154.46 L1120.11,156.28 L1121.44,158.11 L1122.78,159.95 L1124.10,161.80 L1125.43,163.68 L1126.77,165.56 L1128.10,167.45 L1129.41,169.35 L1130.72,171.27 L1132.00,173.20 L1133.08,174.89 L1134.14,176.60 L1135.18,178.32 L1136.22,180.05 L1137.26,181.78 L1138.32,183.50 L1139.40,185.20 L1140.52,186.89 L1141.66,188.56 L1142.82,190.23 L1143.98,191.89 L1145.14,193.55 L1146.28,195.22 L1147.40,196.90 L1148.64,198.84 L1149.85,200.80 L1151.05,202.75 L1152.24,204.71 L1153.45,206.66 L1154.70,208.60 L1155.81,210.27 L1156.95,211.94 L1158.11,213.60 L1159.27,215.25 L1160.43,216.91 L1161.57,218.56 L1162.70,220.20 L1163.95,222.06 L1165.16,223.91 L1166.37,225.76 L1167.58,227.60 L1168.82,229.45 L1170.10,231.30 L1171.29,232.95 L1172.51,234.60 L1173.75,236.26 L1175.01,237.91 L1176.26,239.57 L1177.50,241.23 L1178.70,242.90 L1179.85,244.57 L1180.97,246.26 L1182.08,247.96 L1183.18,249.65 L1184.29,251.33 L1185.43,252.99 L1186.60,254.60 L1187.99,256.37 L1189.41,258.10 L1190.86,259.79 L1192.32,261.47 L1193.77,263.17 L1195.20,264.90 L1196.61,266.69 L1198.01,268.50 L1199.40,270.32 L1200.78,272.15 L1202.18,273.98 L1203.60,275.80 L1204.85,277.38 L1206.11,278.95 L1207.38,280.53 L1208.65,282.10 L1209.93,283.67 L1211.21,285.24 L1212.50,286.80 L1213.79,288.36 L1215.07,289.92 L1216.37,291.48 L1217.66,293.03 L1218.97,294.57 L1220.28,296.09 L1221.60,297.60 L1223.12,299.31 L1224.64,301.00 L1226.17,302.68 L1227.72,304.34 L1229.29,305.98 L1230.90,307.60 L1232.33,309.00 L1233.80,310.38 L1235.28,311.75 L1236.78,313.11 L1238.29,314.45 L1239.80,315.78 L1241.30,317.10 L1243.02,318.58 L1244.74,320.04 L1246.47,321.48 L1248.20,322.91 L1249.95,324.35 L1251.70,325.80 L1253.25,327.10 L1254.81,328.40 L1256.38,329.72 L1257.95,331.03 L1259.53,332.34 L1261.11,333.63 L1262.70,334.90 L1264.53,336.34 L1266.36,337.78 L1268.20,339.19 L1270.05,340.59 L1271.91,341.96 L1273.80,343.30 L1275.71,344.60 L1277.64,345.87 L1279.59,347.12 L1281.55,348.35 L1283.52,349.57 L1285.50,350.80 L1287.25,351.89 L1289.04,352.99 L1290.85,354.09 L1292.64,355.18 L1294.42,356.24 L1296.14,357.25 L1297.80,358.20 L1300.07,359.45 L1302.23,360.59 L1304.36,361.68 L1306.50,362.80" stroke="#0000ff" stroke-width="1.45" stroke-dasharray="5.6 8.3" stroke-dashoffset="7.9" stroke-linejoin="bevel"/>
</g>
<rect x="186.65" y="726.60" width="428.95" height="133.40" fill="none" stroke="#000" stroke-width="1"/>
<g fill="none" stroke-linecap="butt">
<path d="M506.70,743.40 H596.00" stroke="#ff0000" stroke-width="4.30"/>
<path d="M506.70,776.80 H596.00" stroke="#0000ff" stroke-width="1.45"/>
<path d="M506.70,810.00 H596.00" stroke="#ff0000" stroke-width="4.30" stroke-dasharray="17 24.5"/>
<path d="M506.70,843.40 H596.00" stroke="#0000ff" stroke-width="1.45" stroke-dasharray="5.7 8.15"/>
</g>
<g font-size="33.33" text-anchor="end">
<text x="486.50" y="754.6">uniform: stable</text>
<text x="486.50" y="787.9">shell: stable</text>
<text x="486.50" y="824.2">uniform: <tspan font-size="26.90" dy="-15.9">56</tspan><tspan dy="15.9">Ni</tspan></text>
<text x="486.50" y="857.7">shell: <tspan font-size="26.90" dy="-16.3">56</tspan><tspan dy="16.3">Ni</tspan></text>
</g>
<rect x="167.0" y="14.0" width="1140.0" height="855.0" fill="none" stroke="#000" stroke-width="2"/>
<g font-size="33.33" text-anchor="end">
<text x="147.0" y="25.0"><tspan class="h">1</tspan></text>
<text x="147.0" y="342.4">0.<tspan class="h">1</tspan></text>
<text x="147.0" y="658.4">0.0<tspan class="h">1</tspan></text>
</g>
<g font-size="33.33" text-anchor="middle">
<text x="171.00" y="913.7">0</text>
<text x="323.00" y="913.7">2</text>
<text x="475.00" y="913.7">4</text>
<text x="627.00" y="913.7">6</text>
<text x="779.00" y="913.7">8</text>
<text x="931.00" y="913.7"><tspan class="h">1</tspan>0</text>
<text x="1083.00" y="913.7"><tspan class="h">1</tspan>2</text>
<text x="1235.00" y="913.7"><tspan class="h">1</tspan>4</text>
</g>
<text font-size="33.33" text-anchor="middle" x="737.5" y="966.5">Velocity (<tspan class="h">1</tspan>,000 km s<tspan font-size="26.90" dy="-16.7">-<tspan class="h">1</tspan></tspan><tspan dy="16.7">)</tspan></text>
<text font-size="33.33" text-anchor="middle" transform="translate(24.3,441.9) rotate(-90)">X(Ni)</text>
<path d="M0.2475,0 L0.2475,0.5116 L0.0765,0.5116 L0.0765,0.568 L0.185,0.590 C0.232,0.60 0.256,0.65 0.274,0.7126 L0.3405,0.7126 L0.3405,0 Z" fill="#000" transform="translate(128.45,24.85) scale(33.330,-33.330)"/>
<path d="M0.2475,0 L0.2475,0.5116 L0.0765,0.5116 L0.0765,0.568 L0.185,0.590 C0.232,0.60 0.256,0.65 0.274,0.7126 L0.3405,0.7126 L0.3405,0 Z" fill="#000" transform="translate(128.45,342.25) scale(33.330,-33.330)"/>
<path d="M0.2475,0 L0.2475,0.5116 L0.0765,0.5116 L0.0765,0.568 L0.185,0.590 C0.232,0.60 0.256,0.65 0.274,0.7126 L0.3405,0.7126 L0.3405,0 Z" fill="#000" transform="translate(128.45,658.25) scale(33.330,-33.330)"/>
<path d="M0.2475,0 L0.2475,0.5116 L0.0765,0.5116 L0.0765,0.568 L0.185,0.590 C0.232,0.60 0.256,0.65 0.274,0.7126 L0.3405,0.7126 L0.3405,0 Z" fill="#000" transform="translate(913.52,913.55) scale(33.330,-33.330)"/>
<path d="M0.2475,0 L0.2475,0.5116 L0.0765,0.5116 L0.0765,0.568 L0.185,0.590 C0.232,0.60 0.256,0.65 0.274,0.7126 L0.3405,0.7126 L0.3405,0 Z" fill="#000" transform="translate(1065.52,913.55) scale(33.330,-33.330)"/>
<path d="M0.2475,0 L0.2475,0.5116 L0.0765,0.5116 L0.0765,0.568 L0.185,0.590 C0.232,0.60 0.256,0.65 0.274,0.7126 L0.3405,0.7126 L0.3405,0 Z" fill="#000" transform="translate(1217.52,913.55) scale(33.330,-33.330)"/>
<path d="M0.2475,0 L0.2475,0.5116 L0.0765,0.5116 L0.0765,0.568 L0.185,0.590 C0.232,0.60 0.256,0.65 0.274,0.7126 L0.3405,0.7126 L0.3405,0 Z" fill="#000" transform="translate(707.14,966.35) scale(33.330,-33.330)"/>
<path d="M0.2475,0 L0.2475,0.5116 L0.0765,0.5116 L0.0765,0.568 L0.185,0.590 C0.232,0.60 0.256,0.65 0.274,0.7126 L0.3405,0.7126 L0.3405,0 Z" fill="#000" transform="translate(878.93,949.65) scale(26.900,-26.900)"/>
</svg></body></html>
